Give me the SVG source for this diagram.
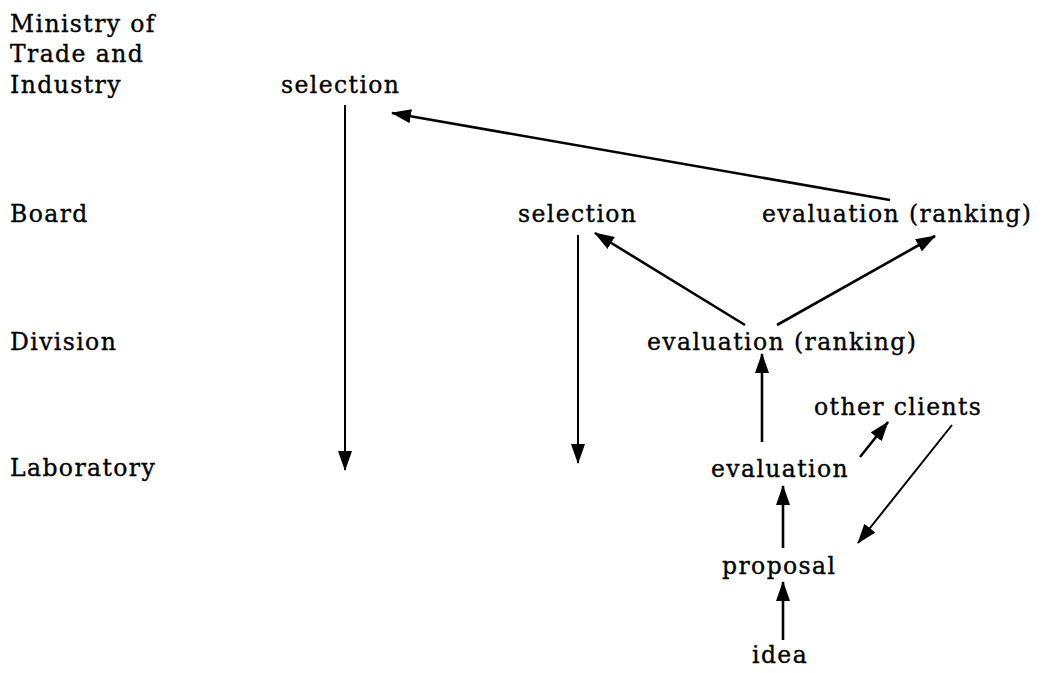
<svg xmlns="http://www.w3.org/2000/svg" width="1049" height="673" viewBox="0 0 1049 673">
<defs>
<style>
text{font-family:"DejaVu Serif","Liberation Serif",serif;font-size:23.5px;fill:#000;stroke:#000;stroke-width:0.35;letter-spacing:1.4px}
.c{stroke:#000;stroke-width:2.6;fill:none}
.t{stroke-width:2}
</style>
<marker id="ah" viewBox="0 0 20 14" refX="19" refY="7" markerWidth="20" markerHeight="14" markerUnits="userSpaceOnUse" orient="auto">
<path d="M0,0 L20,7 L0,14 Z" fill="#000"/>
</marker>
</defs>
<rect width="1049" height="673" fill="#fff"/>
<g id="labels">
<text x="10" y="32">Ministry of</text>
<text x="10" y="62">Trade and</text>
<text x="10" y="93">Industry</text>
<text x="10" y="222">Board</text>
<text x="10" y="350">Division</text>
<text x="10" y="476">Laboratory</text>
</g>
<g id="n-ministry-selection"><text x="281" y="93">selection</text></g>
<g id="n-board-selection"><text x="518" y="222">selection</text></g>
<g id="n-board-evaluation"><text x="762" y="222">evaluation (ranking)</text></g>
<g id="n-division-evaluation"><text x="647" y="350">evaluation (ranking)</text></g>
<g id="n-other-clients"><text x="814" y="415">other clients</text></g>
<g id="n-lab-evaluation"><text x="711" y="477">evaluation</text></g>
<g id="n-proposal"><text x="722" y="574">proposal</text></g>
<g id="n-idea"><text x="752" y="663">idea</text></g>
<g id="connectors">
<line class="c t" x1="345" y1="105" x2="345" y2="470" marker-end="url(#ah)"/>
<line class="c t" x1="578" y1="235" x2="578" y2="463" marker-end="url(#ah)"/>
<line class="c" x1="890" y1="200" x2="392" y2="113" marker-end="url(#ah)"/>
<line class="c" x1="745" y1="325" x2="595" y2="233" marker-end="url(#ah)"/>
<line class="c" x1="777" y1="325" x2="935" y2="236" marker-end="url(#ah)"/>
<line class="c" x1="762" y1="442" x2="762" y2="354" marker-end="url(#ah)"/>
<line class="c" x1="860" y1="457" x2="888" y2="422" marker-end="url(#ah)"/>
<line class="c t" x1="952" y1="425" x2="858" y2="543" marker-end="url(#ah)"/>
<line class="c" x1="783" y1="548" x2="783" y2="486" marker-end="url(#ah)"/>
<line class="c" x1="783" y1="640" x2="783" y2="582" marker-end="url(#ah)"/>
</g>
</svg>
